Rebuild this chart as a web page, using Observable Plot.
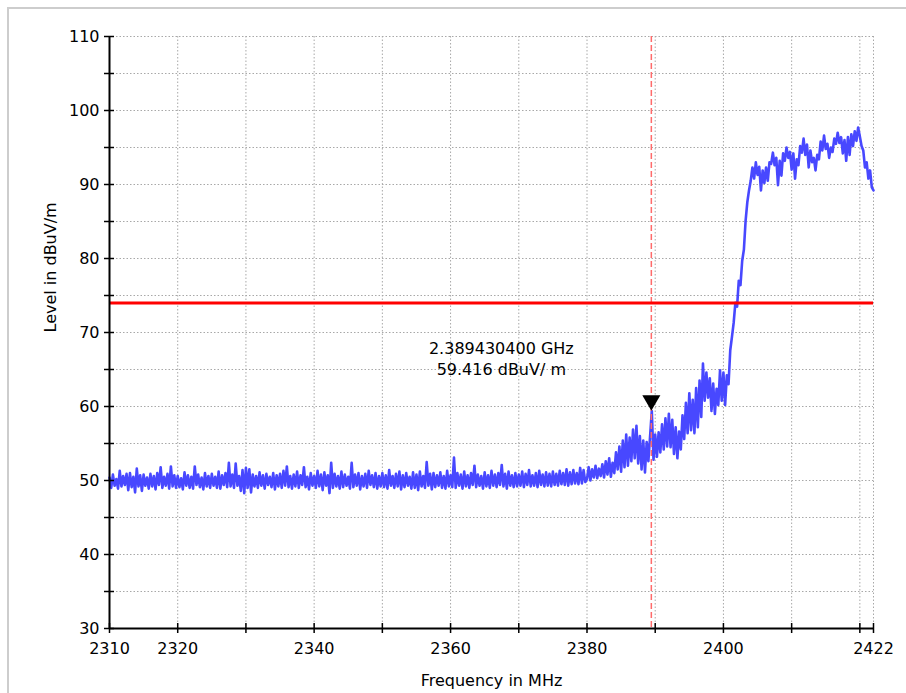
<!DOCTYPE html>
<html>
<head>
<meta charset="utf-8">
<script src="https://cdn.jsdelivr.net/npm/d3@7"></script>
<script src="https://cdn.jsdelivr.net/npm/@observablehq/plot@0.6"></script>
<style>
  body { margin: 0; background: #fff; }
  #wrap { position: relative; width: 906px; height: 693px; overflow: hidden; }
  #border { position: absolute; left: 7px; top: 7px; width: 920px; height: 720px;
            border-left: 2px solid #cdcdcd; border-top: 2px solid #cdcdcd; }
  #chart { position: absolute; left: 0; top: 0; }
</style>
</head>
<body>
<div id="wrap"><div id="border"></div><div id="chart"></div></div>
<script>
// ---- data ----
const freqStart = 2310;      // MHz
const freqStep = 0.25;       // MHz between sweep points
const levels = [
  // 2310 - 2314.75
  50.4,49.0,50.8,49.3,50.2,48.9,51.3,49.2,50.6,49.4,50.9,48.7,51.0,49.1,50.5,48.4,51.6,49.2,50.7,48.6,
  // 2315
  50.8,49.3,50.4,48.9,50.9,49.2,50.6,48.8,51.0,49.4,51.8,49.0,50.5,49.3,50.9,48.9,51.9,49.2,50.7,49.0,
  // 2320
  50.6,49.1,50.3,48.8,51.1,49.3,50.7,49.0,50.5,48.9,51.9,49.4,50.8,49.1,50.4,48.8,51.0,49.2,50.6,49.0,
  // 2325
  50.9,49.3,50.5,49.0,51.2,48.9,50.7,49.4,51.0,49.1,52.4,49.2,50.8,49.0,52.3,49.3,50.6,48.6,51.4,48.3,
  // 2330
  51.7,49.0,51.5,48.4,50.8,49.2,50.6,49.0,51.1,49.3,50.7,48.9,50.9,49.4,50.5,49.1,51.0,48.8,50.7,49.2,
  // 2335
  50.9,49.0,51.3,49.3,51.9,49.1,50.6,48.9,50.8,49.2,51.2,49.0,50.7,49.4,51.8,49.1,50.5,48.8,51.0,49.3,
  // 2340
  50.6,49.0,51.3,49.2,50.8,48.7,51.1,49.3,50.7,48.3,52.4,49.0,50.9,49.2,50.6,48.9,51.2,49.1,50.8,49.3,
  // 2345
  50.5,48.9,52.4,49.1,50.8,49.3,51.0,48.8,50.6,49.2,50.9,49.0,51.3,49.4,50.7,49.1,51.0,48.9,50.6,49.2,
  // 2350
  51.0,49.1,50.7,48.9,51.4,49.3,50.6,49.0,50.9,49.2,51.2,48.8,50.7,49.1,51.0,49.3,50.5,48.9,51.1,49.0,
  // 2355
  50.8,48.7,51.2,49.2,50.6,49.0,52.5,49.3,50.9,48.8,51.0,49.1,50.7,49.3,51.1,49.0,50.6,48.9,51.3,49.2,
  // 2360
  50.7,49.1,53.1,49.0,51.0,49.3,50.8,48.9,51.2,49.2,50.7,49.0,51.0,49.4,52.0,49.1,50.8,49.3,50.6,48.9,
  // 2365
  51.1,49.2,50.7,49.0,51.3,49.3,50.8,49.1,51.0,49.4,52.1,49.2,50.9,48.9,51.2,49.3,50.7,49.1,51.0,49.2,
  // 2370
  50.8,49.3,51.2,49.1,50.9,49.4,51.4,49.2,50.7,49.3,51.0,49.1,51.3,49.4,50.8,49.2,51.1,49.3,50.9,49.2,
  // 2375
  51.2,49.4,50.9,49.3,51.3,49.5,51.0,49.4,51.5,49.3,51.1,49.5,51.4,49.6,51.0,49.5,51.7,49.6,51.4,49.8,
  // 2380 - 2381.75
  50.2,51.8,50.0,51.5,50.4,52.0,50.3,51.6,
  50.6,52.2,50.4,52.6,50.8,53.0,50.5,52.4,
  51.0,53.8,51.5,54.6,51.2,55.4,51.8,56.2,
  52.0,55.8,52.6,56.9,53.0,57.4,52.3,56.0,
  51.5,55.4,51.1,55.2,52.6,56.0,59.4,52.8,
  // 2390
  56.2,53.2,56.5,53.8,57.6,54.2,58.4,54.6,
  59.0,54.5,58.2,53.6,57.2,53.0,56.6,54.2,
  58.8,55.6,60.5,56.4,61.8,56.8,60.9,56.4,
  62.5,57.2,63.5,58.6,65.8,60.8,64.6,61.2,
  63.8,59.4,63.1,59.0,62.4,60.2,64.9,60.8,
  // 2400
  64.6,60.2,64.2,63.0,67.6,69.4,71.3,74.0,
  73.5,77.0,76.4,79.7,81.2,85.1,87.6,89.2,
  90.5,92.3,90.8,93.0,91.3,92.4,89.2,91.9,
  90.2,92.3,90.5,93.0,92.8,94.3,92.6,93.6,
  89.9,93.2,91.2,94.2,93.2,95.0,93.6,94.4,
  // 2410
  92.0,94.2,90.8,93.4,92.6,95.2,94.3,96.2,
  94.0,95.4,92.3,94.6,93.0,93.6,91.9,94.0,
  93.4,95.8,94.6,96.6,94.8,95.5,93.6,95.0,
  94.4,96.2,95.5,97.0,95.6,96.4,94.2,96.0,
  93.2,96.4,94.0,96.8,95.2,97.2,95.9,97.7,
  // 2420
  96.5,95.2,94.6,92.3,93.0,90.8,91.9,89.6,
  89.2
];
const limitLevel = 74;              // dBuV/m limit line
const markerFreq = 2389.4304;       // MHz
const markerLevel = 59.416;         // dBuV/m
const markerLabel = ["2.389430400 GHz", "59.416 dBuV/ m"];

const xTicks = [2310, 2320, 2330, 2340, 2350, 2360, 2370, 2380, 2390, 2400, 2410, 2420, 2422];
const xTickLabels = [2310, 2320, 2340, 2360, 2380, 2400, 2422];
const yTicks = [30, 35, 40, 45, 50, 55, 60, 65, 70, 75, 80, 85, 90, 95, 100, 105, 110];
const yTickLabels = [30, 40, 50, 60, 70, 80, 90, 100, 110];
const xTitle = "Frequency in MHz";
const yTitle = "Level in dBuV/m";

// ---- table ----
const trace = levels.map((v, i) => ({f: freqStart + i * freqStep, level: v}));
const gridStyle = {stroke: "#a8a8a8", strokeOpacity: 1, strokeDasharray: "1.5,2", strokeWidth: 1};

const chart = Plot.plot({
  width: 906,
  height: 693,
  marginLeft: 109,
  marginRight: 33,
  marginTop: 36,
  marginBottom: 65,
  x: {domain: [2310, 2422]},
  y: {domain: [30, 110]},
  style: {fontFamily: "'DejaVu Sans', sans-serif", fontSize: "16px", background: "transparent", color: "#000"},
  marks: [
    Plot.gridX(xTicks.filter(d => d > 2310), gridStyle),
    Plot.gridY(yTicks.filter(d => d > 30), gridStyle),
    Plot.line(trace, {x: "f", y: "level", stroke: "#4848ff", strokeWidth: 2.6, strokeLinejoin: "round"}),
    Plot.ruleX([markerFreq], {stroke: "#ff6b6b", strokeWidth: 1.5, strokeDasharray: "6,3"}),
    Plot.ruleY([limitLevel], {stroke: "#ff0000", strokeWidth: 3}),
    Plot.dot([{f: markerFreq, level: markerLevel}], {x: "f", y: "level", symbol: "triangle", rotate: 180, r: 6.7, fill: "#000", stroke: null, dy: -10.4}),
    Plot.text([markerLabel.join("\n")], {x: () => markerFreq, y: () => markerLevel, dx: -150, dy: -53, lineHeight: 1.3, fontSize: 16, fill: "#000"}),
    // axis lines
    Plot.ruleX([2310], {stroke: "#000", strokeWidth: 2}),
    Plot.ruleY([30], {stroke: "#000", strokeWidth: 2}),
    // crossing tick marks
    Plot.axisY(yTicks, {anchor: "left", tickSize: 10, dx: 5, tickFormat: () => "", label: null, strokeWidth: 1.5}),
    Plot.axisX(xTicks, {anchor: "bottom", tickSize: 10, dy: -5, tickFormat: () => "", label: null, strokeWidth: 1.5}),
    // tick labels
    Plot.axisY(yTickLabels, {anchor: "left", tickSize: 0, tickPadding: 10, tickFormat: d => String(d), label: null}),
    Plot.axisX(xTickLabels, {anchor: "bottom", tickSize: 0, tickPadding: 14, tickFormat: d => String(d), label: null}),
    // axis titles
    Plot.text([xTitle], {frameAnchor: "bottom", dy: 57, fontSize: 16, fill: "#000"}),
    Plot.text([yTitle], {frameAnchor: "left", dx: -59, rotate: -90, fontSize: 16, fill: "#000"})
  ]
});
document.getElementById("chart").appendChild(chart);
</script>
</body>
</html>
